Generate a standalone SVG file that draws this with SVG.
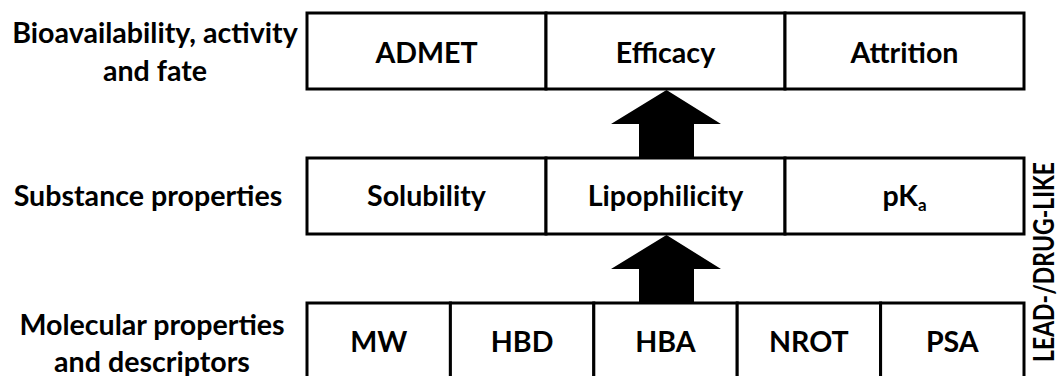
<svg xmlns="http://www.w3.org/2000/svg" width="1058" height="376" viewBox="0 0 1058 376">
<style>
  .cell { fill: #fff; stroke: #000; stroke-width: 3; }
  .t { font-family: Lato, "Liberation Sans", sans-serif; font-weight: bold; font-size: 28.6px; fill: #000; text-anchor: middle; }
  .arrow { fill: #000; stroke: none; }
</style>
<rect width="1058" height="376" fill="#fff"/>

<g id="label-top"><text class="t" x="155" y="43">Bioavailability, activity</text><text class="t" x="155" y="81">and fate</text></g>
<g id="label-mid"><text class="t" x="148" y="206">Substance properties</text></g>
<g id="label-bot"><text class="t" x="152" y="335">Molecular properties</text><text class="t" x="152" y="372">and descriptors</text></g>

<g id="admet"><rect class="cell" x="307" y="13" width="239" height="76"/><text class="t" x="426.5" y="63">ADMET</text></g>
<g id="efficacy"><rect class="cell" x="546" y="13" width="239" height="76"/><text class="t" x="665.5" y="63">Efficacy</text></g>
<g id="attrition"><rect class="cell" x="785" y="13" width="239" height="76"/><text class="t" x="904.5" y="63">Attrition</text></g>

<g id="solubility"><rect class="cell" x="307" y="158" width="239" height="76"/><text class="t" x="426.5" y="206">Solubility</text></g>
<g id="lipophilicity"><rect class="cell" x="546" y="158" width="239" height="76"/><text class="t" x="665.5" y="206">Lipophilicity</text></g>
<g id="pka"><rect class="cell" x="785" y="158" width="239" height="76"/><text class="t" x="904.5" y="206">pK<tspan font-size="17" dy="5">a</tspan></text></g>

<g id="mw"><rect class="cell" x="307" y="303" width="143.4" height="95"/><text class="t" x="378.7" y="352">MW</text></g>
<g id="hbd"><rect class="cell" x="450.4" y="303" width="143.4" height="95"/><text class="t" x="522.1" y="352">HBD</text></g>
<g id="hba"><rect class="cell" x="593.8" y="303" width="143.4" height="95"/><text class="t" x="665.5" y="352">HBA</text></g>
<g id="nrot"><rect class="cell" x="737.2" y="303" width="143.4" height="95"/><text class="t" x="808.9" y="352">NROT</text></g>
<g id="psa"><rect class="cell" x="880.6" y="303" width="143.4" height="95"/><text class="t" x="952.3" y="352">PSA</text></g>

<g id="side-label"><text class="t" font-size="22" transform="translate(1054,262) rotate(-90)" textLength="200" lengthAdjust="spacingAndGlyphs">LEAD-/DRUG-LIKE</text></g>

<g id="connectors">
  <polygon class="arrow" points="666.5,90 721,124 694,124 694,157 639,157 639,124 611,124"/>
  <polygon class="arrow" points="666.5,235 721,269 694,269 694,302 639,302 639,269 611,269"/>
</g>
</svg>
